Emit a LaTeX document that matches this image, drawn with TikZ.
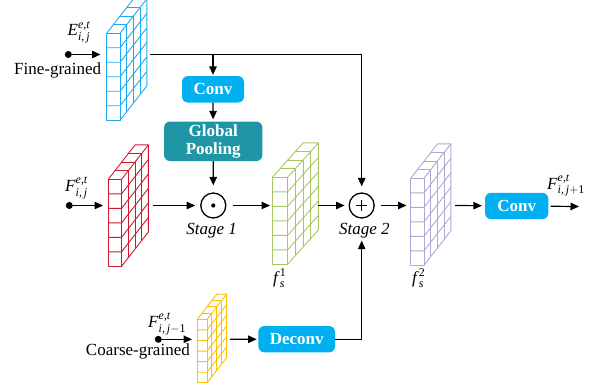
\documentclass[tikz,border=0pt]{standalone}
\usepackage{amsmath}
\usepackage{fontspec}
\setmainfont{Liberation Serif}
\usetikzlibrary{arrows.meta,calc}

\definecolor{convblue}{HTML}{00B0F0}
\definecolor{poolteal}{HTML}{1F96A6}
\definecolor{cubeblue}{HTML}{1EAAF0}
\definecolor{cubered}{HTML}{CC1A2C}
\definecolor{cubegreen}{HTML}{A5C862}
\definecolor{cubepurple}{HTML}{B3A6D6}
\definecolor{cubeyellow}{HTML}{FFC000}

\tikzset{
  txt/.style={font=\fontsize{17}{19}\selectfont, inner sep=0pt},
  arr/.style={-{Triangle[length=8.5pt,width=7.5pt]}, line width=1.2pt},
  link/.style={line width=1.2pt},
  dotnode/.style={circle, fill=black, inner sep=0pt, minimum size=7pt},
  opnode/.style={circle, draw=black, line width=1.3pt, inner sep=0pt, minimum size=25pt},
  blockbox/.style={rounded corners=6pt, text=white, inner sep=0pt, align=center,
    font=\fontsize{17}{18.5}\selectfont\bfseries},
  % feature map: a slab of 1 x 6 x 4 cells, placed at its front top-left corner
  pics/fmap/.style n args={3}{code={
    \begin{scope}[scale=#2, xscale=#3, draw=#1, line width=0.9pt, line join=round]
      \draw (0,0) rectangle (13.3,87);
      \foreach \j in {1,...,5}
        \draw (0,{\j*14.5}) -- (13.3,{\j*14.5}) -- (40.1,{\j*14.5-34.4});
      \foreach \k in {1,2,3}
        \draw ({\k*6.7},{-\k*8.6}) -- ({13.3+\k*6.7},{-\k*8.6}) -- ({13.3+\k*6.7},{87-\k*8.6});
      \draw (0,0) -- (26.8,-34.4) -- (40.1,-34.4) -- (40.1,52.6) -- (13.3,87);
      \draw (13.3,0) -- (40.1,-34.4);
    \end{scope}
  }}
}

\begin{document}
\begin{tikzpicture}[x=1pt,y=-1pt]
  \useasboundingbox (0,0) rectangle (589,385);

  % feature maps
  \pic at (106.7,33.3)  {fmap={cubeblue}{1}{1}};
  \pic at (108.3,179.3) {fmap={cubered}{1}{1}};
  \pic at (272.3,177.3) {fmap={cubegreen}{1}{1.15}};
  \pic at (410.7,178.3) {fmap={cubepurple}{1}{1}};
  \pic at (197.3,319.3) {fmap={cubeyellow}{0.73}{1}};

  % ports of the feature maps
  \coordinate (blueIn)    at (100.5,54.5);
  \coordinate (blueOut)   at (150,54.5);
  \coordinate (redIn)     at (103,205.5);
  \coordinate (redOut)    at (153,205.5);
  \coordinate (greenIn)   at (270,205.5);
  \coordinate (greenOut)  at (317.5,205.5);
  \coordinate (purpleIn)  at (406.5,205.5);
  \coordinate (purpleOut) at (455,205.5);
  \coordinate (yellowIn)  at (192,339.3);
  \coordinate (yellowOut) at (230,339.3);
  \coordinate (outEnd)    at (579,206.5);

  % input dots
  \node[dotnode] (dE) at (68.3,54.5) {};
  \node[dotnode] (dF) at (69.3,205.5) {};
  \node[dotnode] (dC) at (158.3,339.3) {};

  % operators
  \node[opnode] (mul) at (213.3,205.5) {};
  \fill (mul.center) circle (2.1pt);
  \node[opnode] (add) at (361.7,205.5) {};
  \draw[line width=1.2pt] ($(add.center)+(-5.5,0)$) -- ($(add.center)+(5.5,0)$)
                          ($(add.center)+(0,-5.5)$) -- ($(add.center)+(0,5.5)$);

  % processing blocks
  \node[blockbox, fill=convblue, minimum width=62pt, minimum height=26.5pt] (convA) at (213,89.3) {Conv};
  \node[blockbox, fill=poolteal, minimum width=98.3pt, minimum height=39.5pt] (pool) at (213.2,141.3) {Global\\Pooling};
  \node[blockbox, fill=convblue, minimum width=63.3pt, minimum height=26.3pt] (convB) at (516.7,206) {Conv};
  \node[blockbox, fill=convblue, minimum width=76.7pt, minimum height=26.3pt] (deconv) at (296.7,339.2) {Deconv};

  % labels
  \node[txt, anchor=base west] (lE) at (67.5,36) {\textit{E}$^{\textit{e,t}}_{\textit{i,\,j}}$};
  \node[txt, anchor=base west] (lFine) at (14,75) {Fine-grained};
  \node[txt, anchor=base west] (lF) at (65,191.7) {\textit{F}$^{\textit{e,t}}_{\textit{i,\,j}}$};
  \node[txt, anchor=base west] (lFc) at (148,327.7) {\textit{F}$^{\textit{e,t}}_{\textit{i,\,j}-\textrm{1}}$};
  \node[txt, anchor=base east] (lCoarse) at (190,355) {Coarse-grained};
  \node[txt, anchor=base west] (lOut) at (547,189.3) {\textit{F}$^{\textit{e,t}}_{\textit{i,\,j}+\textrm{1}}$};
  \node[txt, anchor=base] (st1) at (211.7,234) {\textit{Stage 1}};
  \node[txt, anchor=base] (st2) at (364.3,234) {\textit{Stage 2}};
  \node[txt, anchor=base west] (f1) at (273,283) {\textit{f}$_{\textit{s}}^{\textrm{1}}$};
  \node[txt, anchor=base west] (f2) at (412,283) {\textit{f}$_{\textit{s}}^{\textrm{2}}$};

  % inputs
  \draw[arr] (dE) -- (blueIn);
  \draw[arr] (dF) -- (redIn);
  \draw[arr] (dC) -- (yellowIn);

  % fine-grained branch
  \coordinate (split) at (convA.center |- blueOut);
  \draw[arr, shorten >=6pt] (blueOut) -| (add);
  \draw[arr, shorten >=1pt] (split) -- (convA);
  \draw[arr, shorten >=2pt] (convA) -- (pool);
  \draw[arr, shorten >=7pt] (pool) -- (mul);

  % main path
  \draw[arr, shorten >=5pt] (redOut) -- (mul);
  \draw[arr, shorten <=7pt] (mul) -- (greenIn);
  \draw[arr, shorten >=4pt] (greenOut) -- (add);
  \draw[arr, shorten <=6pt] (add) -- (purpleIn);
  \draw[arr, shorten >=3pt] (purpleOut) -- (convB);
  \draw[arr, shorten <=2pt] (convB) -- (outEnd);

  % coarse-grained branch
  \draw[arr, shorten >=1.5pt] (yellowOut) -- (deconv);
  \draw[arr, shorten >=22pt] (deconv) -| (add);
\end{tikzpicture}
\end{document}
